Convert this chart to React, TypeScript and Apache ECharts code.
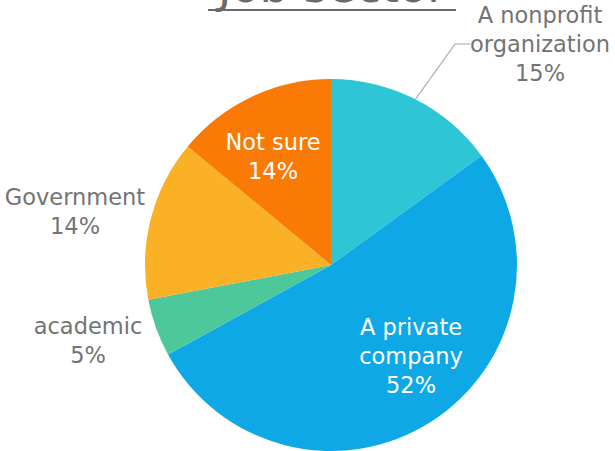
import React, { useEffect, useRef } from 'react';
import * as echarts from 'echarts';

const categories = ['A nonprofit\norganization', 'A private\ncompany', 'academic', 'Government', 'Not sure'];
const values = [15, 52, 5, 14, 14];
const sliceColors = ['#2EC6D5', '#0FA8E6', '#4CC89B', '#FBB125', '#FA7A06'];
const insideLabel = [false, true, false, false, true];
const titleText = 'Job sector';

export default function App() {
  const ref = useRef<HTMLDivElement>(null);
  useEffect(() => {
    if (!ref.current) return;
    const chart = echarts.init(ref.current, undefined, { renderer: 'svg' });
    const font = 'DejaVu Sans';
    const gray = '#737373';
    const anchors: number[][] = [
      [540, 44],
      [411, 356],
      [88, 340],
      [75, 211],
      [273, 156],
    ];
    chart.setOption({
      animation: false,
      graphic: [
        {
          type: 'text',
          x: 332,
          y: 9,
          style: {
            text: titleText,
            fill: '#6a6a6a',
            font: `46px "${font}"`,
            textAlign: 'center',
            textVerticalAlign: 'bottom',
          },
        },
        {
          type: 'line',
          shape: { x1: 208, y1: 10, x2: 456, y2: 10 },
          style: { stroke: '#6a6a6a', lineWidth: 2 },
        },
      ],
      series: [
        {
          type: 'pie',
          center: [331, 265],
          radius: 186,
          startAngle: 90,
          clockwise: true,
          avoidLabelOverlap: false,
          labelLayout: (params: any) => {
            const a = anchors[params.dataIndex];
            return { x: a[0], y: a[1], align: 'center', verticalAlign: 'middle' };
          },
          data: values.map((v, i) => ({
            name: categories[i],
            value: v,
            itemStyle: { color: sliceColors[i] },
            label: {
              show: true,
              position: insideLabel[i] ? 'inside' : 'outside',
              color: insideLabel[i] ? '#ffffff' : gray,
            },
            labelLine: {
              show: i === 0,
              lineStyle: { color: '#a6a6a6', width: 1.2 },
            },
          })),
          label: {
            formatter: '{b}\n{c}%',
            fontFamily: font,
            fontSize: 22.5,
            lineHeight: 29,
            align: 'center',
          },
          labelLine: { length: 30, length2: 15 },
        },
      ],
    });
    return () => chart.dispose();
  }, []);
  return <div ref={ref} style={{ position: 'absolute', left: 0, top: 0, width: 615, height: 451 }} />;
}
